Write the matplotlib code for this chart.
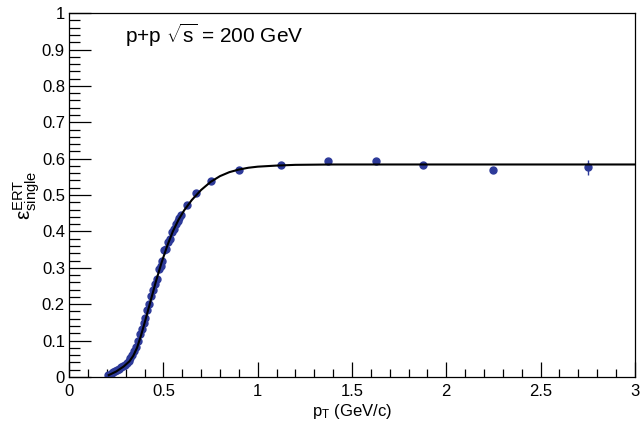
"""Single-particle ERT trigger efficiency versus pT in p+p at 200 GeV."""

import matplotlib.pyplot as plt
from matplotlib.ticker import MultipleLocator


PT = [
    0.205, 0.215, 0.225, 0.235, 0.245, 0.255, 0.265, 0.275, 0.285, 0.295,
    0.305, 0.315, 0.325, 0.335, 0.345, 0.355, 0.365, 0.375, 0.385, 0.395,
    0.405, 0.415, 0.425, 0.435, 0.445, 0.455, 0.465, 0.475, 0.485, 0.495,
    0.505, 0.515, 0.525, 0.535, 0.545, 0.555, 0.565, 0.575, 0.585, 0.595,
    0.625, 0.675, 0.75, 0.9, 1.125, 1.375, 1.625, 1.875, 2.25, 2.75,
]
EFF = [
    0.004, 0.006, 0.010, 0.013, 0.016, 0.019, 0.022, 0.026, 0.030, 0.034,
    0.039, 0.044, 0.052, 0.060, 0.070, 0.083, 0.100, 0.118, 0.133, 0.147,
    0.162, 0.183, 0.200, 0.222, 0.240, 0.255, 0.268, 0.296, 0.305, 0.320,
    0.348, 0.352, 0.372, 0.380, 0.398, 0.408, 0.420, 0.430, 0.438, 0.446,
    0.472, 0.505, 0.538, 0.569, 0.582, 0.594, 0.593, 0.582, 0.568, 0.576,
]
EFF_ERR = [0.002] * 44 + [0.003, 0.004, 0.005, 0.006, 0.008, 0.020]

# fitted turn-on curve
FIT_PT = [
    0.21, 0.25, 0.29, 0.32, 0.34, 0.36, 0.38, 0.40, 0.43, 0.46, 0.49, 0.52,
    0.55, 0.58, 0.61, 0.65, 0.70, 0.75, 0.80, 0.85, 0.90, 0.95, 1.00, 1.10,
    1.20, 1.40, 3.00,
]
FIT_EFF = [
    0.005, 0.015, 0.029, 0.043, 0.058, 0.080, 0.112, 0.148, 0.205, 0.262,
    0.314, 0.360, 0.400, 0.432, 0.458, 0.486, 0.514, 0.536, 0.552, 0.563,
    0.570, 0.575, 0.578, 0.581, 0.583, 0.584, 0.584,
]

MARKER_COLOR = "#2d3a99"


def main() -> None:
    plt.rcParams.update(
        {
            "font.family": ["Liberation Sans", "DejaVu Sans"],
            "mathtext.fontset": "custom",
            "mathtext.rm": "Liberation Sans",
            "mathtext.it": "Liberation Sans:italic",
            "mathtext.sf": "Liberation Sans",
        }
    )
    figure = plt.figure(figsize=(6.4, 4.24), dpi=100)
    axis = figure.add_axes([0.108, 0.111, 0.884, 0.858])

    axis.errorbar(
        PT, EFF, yerr=EFF_ERR, fmt="o", color=MARKER_COLOR,
        markersize=5, elinewidth=1, capsize=0, zorder=2,
    )
    axis.plot(FIT_PT, FIT_EFF, color="black", linewidth=1.5, zorder=3)

    axis.set_xlim(0, 3)
    axis.set_ylim(0, 1)
    axis.xaxis.set_minor_locator(MultipleLocator(0.1))
    axis.yaxis.set_minor_locator(MultipleLocator(0.02))
    axis.set_xticks([0, 0.5, 1, 1.5, 2, 2.5, 3],
                    ["0", "0.5", "1", "1.5", "2", "2.5", "3"])
    axis.set_yticks([i / 10 for i in range(11)],
                    ["0", "0.1", "0.2", "0.3", "0.4", "0.5", "0.6", "0.7",
                     "0.8", "0.9", "1"])

    axis.tick_params(axis="both", which="both", direction="in",
                     top=False, right=False, labelsize=12, width=0.9)
    axis.tick_params(axis="x", which="major", length=11, pad=5)
    axis.tick_params(axis="x", which="minor", length=5.5)
    axis.tick_params(axis="y", which="major", length=16, pad=3)
    axis.tick_params(axis="y", which="minor", length=8)
    for spine in axis.spines.values():
        spine.set_linewidth(0.9)

    axis.set_xlabel(r"p$_{\mathrm{T}}$ (GeV/c)", fontsize=12, labelpad=2)
    axis.set_ylabel(r"$\mathrm{ε}^{\mathrm{ERT}}_{\mathrm{single}}$",
                    fontsize=15, labelpad=0)
    axis.text(0.099, 0.975, r"p+p $\sqrt{\mathrm{s}}$ = 200 GeV",
              transform=axis.transAxes, fontsize=15, va="top", ha="left")

    figure.savefig("out.png", dpi=100)
    plt.close(figure)


if __name__ == "__main__":
    main()
